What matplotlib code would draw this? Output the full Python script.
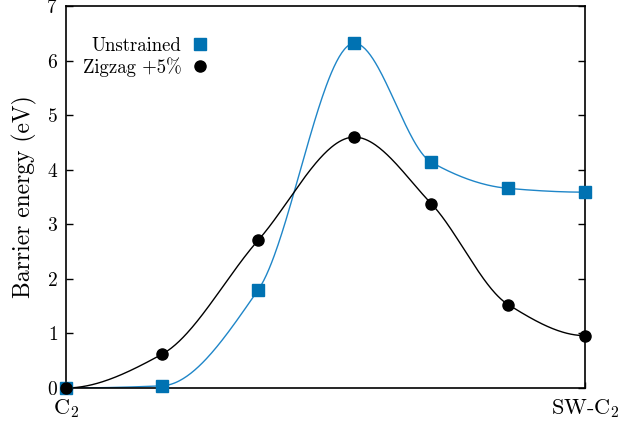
import numpy as np
import matplotlib
matplotlib.use("Agg")
import matplotlib.pyplot as plt
from matplotlib.lines import Line2D

plt.rcParams['font.family'] = 'serif'
plt.rcParams['font.serif'] = ['cmr10']
plt.rcParams['mathtext.fontset'] = 'cm'
plt.rcParams['axes.formatter.use_mathtext'] = True

# Data
path = [0, 1, 2, 3, 3.8, 4.6, 5.4]
unstrained = [0.0, 0.04, 1.80, 6.32, 4.14, 3.66, 3.59]
zigzag = [0.0, 0.62, 2.71, 4.60, 3.38, 1.53, 0.96]
xtick_labels = [r'C$_2$', r'SW-C$_2$']
series_names = ['Unstrained', r'Zigzag +5%']


def pchip(x, y, n=400):
    x = np.asarray(x, float)
    y = np.asarray(y, float)
    h = np.diff(x)
    d = np.diff(y) / h
    m = np.zeros_like(y)
    for k in range(1, len(x) - 1):
        if d[k - 1] * d[k] <= 0:
            m[k] = 0
        else:
            w1 = 2 * h[k] + h[k - 1]
            w2 = h[k] + 2 * h[k - 1]
            m[k] = (w1 + w2) / (w1 / d[k - 1] + w2 / d[k])
    def endslope(h0, h1, d0, d1):
        s = ((2 * h0 + h1) * d0 - h0 * d1) / (h0 + h1)
        if np.sign(s) != np.sign(d0):
            s = 0
        elif np.sign(d0) != np.sign(d1) and abs(s) > abs(3 * d0):
            s = 3 * d0
        return s
    m[0] = endslope(h[0], h[1], d[0], d[1])
    m[-1] = endslope(h[-1], h[-2], d[-1], d[-2])
    xs = np.linspace(x[0], x[-1], n)
    idx = np.clip(np.searchsorted(x, xs) - 1, 0, len(x) - 2)
    t = (xs - x[idx]) / h[idx]
    h00 = 2 * t**3 - 3 * t**2 + 1
    h10 = t**3 - 2 * t**2 + t
    h01 = -2 * t**3 + 3 * t**2
    h11 = t**3 - t**2
    ys = h00 * y[idx] + h10 * h[idx] * m[idx] + h01 * y[idx + 1] + h11 * h[idx] * m[idx + 1]
    return xs, ys


fig = plt.figure(figsize=(6.23, 4.29), dpi=100)
ax = fig.add_axes([0.106, 0.0956, 0.833, 0.890])

blue = '#0072b2'
xs, ys = pchip(path, unstrained)
ax.plot(xs, ys, color='#1f86c8', lw=1.0, zorder=2)
ax.plot(path, unstrained, 's', color=blue, ms=8, zorder=3, clip_on=False)
xs, ys = pchip(path, zigzag)
ax.plot(xs, ys, color='black', lw=1.0, zorder=2)
ax.plot(path, zigzag, 'o', color='black', ms=8, zorder=4, clip_on=False)

ax.set_xlim(path[0], path[-1])
ax.set_ylim(0, 7)
ax.set_yticks(range(0, 8))
ax.set_xticks([path[0], path[-1]])
ax.set_xticklabels(xtick_labels, fontsize=16)
ax.tick_params(axis='y', direction='in', length=5, width=1, labelsize=14, right=True, pad=6)
ax.tick_params(axis='x', direction='in', length=4, width=1, pad=7, top=False)
ax.set_ylabel('Barrier energy (eV)', fontsize=17, labelpad=7)
for s in ax.spines.values():
    s.set_linewidth(1.2)

handles = [Line2D([], [], marker='s', color=blue, ls='none', ms=8),
           Line2D([], [], marker='o', color='black', ls='none', ms=8)]
leg = ax.legend(handles, series_names, loc='upper left', bbox_to_anchor=(0.018, 0.94),
                markerfirst=False, frameon=False, fontsize=13.5, handlelength=1.0,
                handletextpad=0.5, labelspacing=0.12, borderaxespad=0)
for t in leg.get_texts():
    t.set_ha('right')
leg._legend_box.align = 'right'

fig.savefig('out.png', dpi=100)
